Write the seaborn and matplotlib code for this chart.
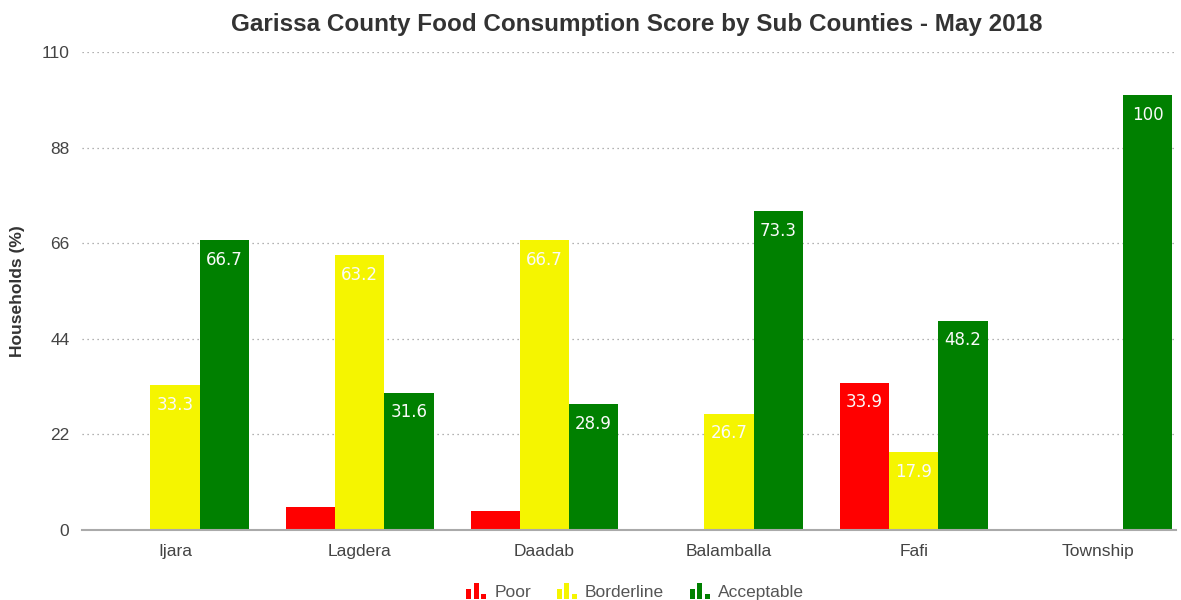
import matplotlib
matplotlib.use("Agg")
import matplotlib.pyplot as plt
import seaborn as sns
import pandas as pd
from matplotlib.patches import Rectangle
from matplotlib.legend_handler import HandlerBase

sub_counties = ["Ijara", "Lagdera", "Daadab", "Balamballa", "Fafi", "Township"]
categories = ["Poor", "Borderline", "Acceptable"]
poor = [0, 5.3, 4.4, 0, 33.9, 0]
borderline = [33.3, 63.2, 66.7, 26.7, 17.9, 0]
acceptable = [66.7, 31.6, 28.9, 73.3, 48.2, 100]
yticks = [0, 22, 44, 66, 88, 110]
colors = ["#ff0000", "#f5f500", "#008000"]

rows = []
for i, sc in enumerate(sub_counties):
    for cat, vals in zip(categories, [poor, borderline, acceptable]):
        rows.append({"Sub County": sc, "Category": cat, "Value": vals[i]})
df = pd.DataFrame(rows)

sns.set_theme(style="white")
plt.rcParams['font.family'] = ['Liberation Sans', 'DejaVu Sans']

fig = plt.figure(figsize=(11.81, 6.0), dpi=100)
ax = fig.add_axes([0.0694, 0.1167, 0.9264, 0.7966])

sns.barplot(data=df, x="Sub County", y="Value", hue="Category",
            order=sub_counties, hue_order=categories,
            palette=colors, width=0.8, saturation=1, ax=ax,
            edgecolor="none", linewidth=0, legend=False)

# value labels
for container, cat in zip(ax.containers, categories):
    for bar in container:
        h = bar.get_height()
        if h < 10:
            continue
        ax.annotate(f"{h:g}", (bar.get_x() + bar.get_width() / 2, h),
                    xytext=(0, -14), textcoords="offset points",
                    ha="center", va="center", color="#fafafa",
                    fontsize=12, family="DejaVu Sans")

ax.set_ylim(0, 110)
ax.set_xlim(-0.504, 5.42)
ax.set_yticks(yticks)
ax.set_yticklabels([str(t) for t in yticks])
for t in yticks[1:]:
    ax.axhline(t, color="#999999", linestyle=(0, (1, 3)), linewidth=0.9, zorder=0)
ax.set_axisbelow(True)
for s in ["top", "right", "left"]:
    ax.spines[s].set_visible(False)
ax.spines["bottom"].set_color("#aaaaaa")
ax.spines["bottom"].set_linewidth(1.5)
ax.tick_params(axis="both", length=0, labelsize=12.5, labelcolor="#444444")
ax.tick_params(axis="x", pad=10)
ax.tick_params(axis="y", pad=9)
ax.set_xlabel("")
ax.set_ylabel("Households (%)", fontsize=12.5, fontweight="bold", color="#333333", labelpad=12)
ax.set_title("Garissa County Food Consumption Score by Sub Counties - May 2018",
             fontsize=17.5, fontweight="bold", color="#333333", pad=15, x=0.507)


class BarIconHandler(HandlerBase):
    def create_artists(self, legend, orig_handle, xdescent, ydescent,
                       width, height, fontsize, trans):
        c = orig_handle.get_facecolor()
        w = width / 4.0
        arts = []
        for k, frac in enumerate([0.65, 1.0, 0.3]):
            r = Rectangle((xdescent + k * w * 1.5, -ydescent), w, height * frac,
                          facecolor=c, edgecolor="none", transform=trans)
            arts.append(r)
        return arts


handles = [Rectangle((0, 0), 1, 1, facecolor=c) for c in colors]
leg = fig.legend(handles, categories, loc="lower center", ncol=3,
                 bbox_to_anchor=(0.5377, -0.026), frameon=False,
                 handler_map={Rectangle: BarIconHandler()},
                 handlelength=1.15, handleheight=1.1, columnspacing=1.5,
                 handletextpad=0.45, fontsize=12.5)
for t in leg.get_texts():
    t.set_color("#555555")

fig.savefig("out.png", dpi=100)
